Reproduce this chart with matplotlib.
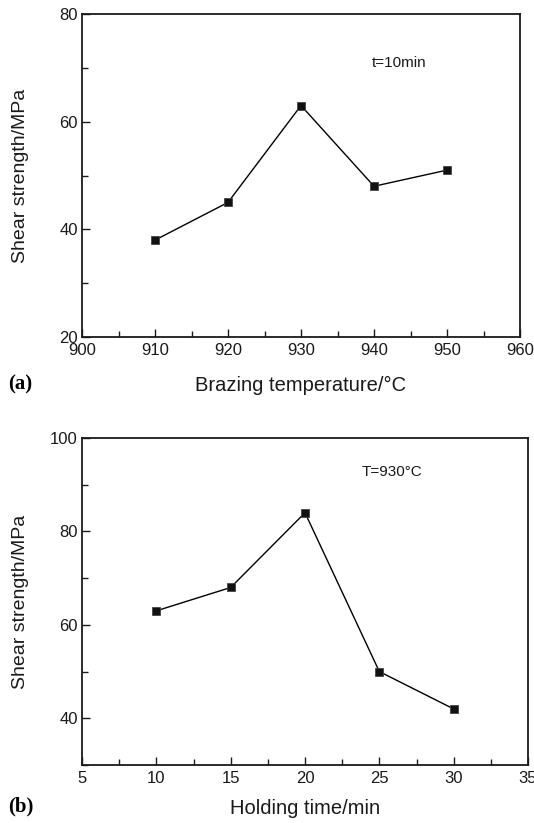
import matplotlib
matplotlib.use("Agg")
import matplotlib.pyplot as plt
from matplotlib.ticker import MultipleLocator

plt.rcParams["font.family"] = ["Liberation Sans", "DejaVu Sans"]

W, H = 534, 823
DPI = 100

# (a) brazing temperature series, t = 10 min
temp_c = [910, 920, 930, 940, 950]
strength_temp = [38, 45, 63, 48, 51]

# (b) holding time series, T = 930 C
hold_min = [10, 15, 20, 25, 30]
strength_hold = [63, 68, 84, 50, 42]

TEXT_COLOR = "#1a1a1a"


def style_axes(ax):
    for s in ax.spines.values():
        s.set_linewidth(1.3)
        s.set_color("#1a1a1a")
    ax.tick_params(which="both", direction="in", top=False, right=False,
                   labelsize=12, colors=TEXT_COLOR, width=1.0)
    ax.tick_params(which="major", length=6)
    ax.tick_params(axis="x", which="major", pad=4)
    ax.tick_params(axis="y", which="major", pad=3)
    ax.tick_params(which="minor", length=4)


def px_axes(fig, left, top, right, bottom):
    return fig.add_axes([left / W, 1 - bottom / H, (right - left) / W, (bottom - top) / H])


fig = plt.figure(figsize=(W / DPI, H / DPI), dpi=DPI)

# panel (a)
ax1 = px_axes(fig, 82, 14, 520, 337)
ax1.plot(temp_c, strength_temp, color="black", lw=1.0, marker="s", ms=6,
         mfc="#111111", mec="#444444", mew=0.6)
ax1.set_xlim(900, 960)
ax1.set_ylim(20, 80)
ax1.xaxis.set_major_locator(MultipleLocator(10))
ax1.xaxis.set_minor_locator(MultipleLocator(5))
ax1.yaxis.set_major_locator(MultipleLocator(20))
ax1.yaxis.set_minor_locator(MultipleLocator(10))
style_axes(ax1)
ax1.set_xlabel("Brazing temperature/°C", fontsize=14.5, color=TEXT_COLOR, labelpad=13)
ax1.set_ylabel("Shear strength/MPa", fontsize=14, color=TEXT_COLOR)
ax1.yaxis.set_label_coords((29 - 82) / 438, 0.5)
ax1.text(0.662, 0.848, "t=10min", transform=ax1.transAxes, fontsize=11,
         ha="left", va="center", color=TEXT_COLOR)

# panel (b)
ax2 = px_axes(fig, 82, 438, 528, 765)
ax2.plot(hold_min, strength_hold, color="black", lw=1.0, marker="s", ms=6,
         mfc="#111111", mec="#444444", mew=0.6)
ax2.set_xlim(5, 35)
ax2.set_ylim(30, 100)
ax2.xaxis.set_major_locator(MultipleLocator(5))
ax2.xaxis.set_minor_locator(MultipleLocator(2.5))
ax2.yaxis.set_major_locator(MultipleLocator(20))
ax2.yaxis.set_minor_locator(MultipleLocator(10))
style_axes(ax2)
ax2.set_xlabel("Holding time/min", fontsize=14.5, color=TEXT_COLOR, labelpad=10)
ax2.set_ylabel("Shear strength/MPa", fontsize=14, color=TEXT_COLOR)
ax2.yaxis.set_label_coords((29 - 82) / 446, 0.5)
ax2.text(0.628, 0.896, "T=930°C", transform=ax2.transAxes, fontsize=11,
         ha="left", va="center", color=TEXT_COLOR)

# panel letters
fig.text(8 / W, 1 - 384 / H, "(a)", fontsize=15, fontweight="bold",
         family="Liberation Serif", ha="left", va="center")
fig.text(8 / W, 1 - 806 / H, "(b)", fontsize=15, fontweight="bold",
         family="Liberation Serif", ha="left", va="center")

fig.savefig("out.png", dpi=DPI)
